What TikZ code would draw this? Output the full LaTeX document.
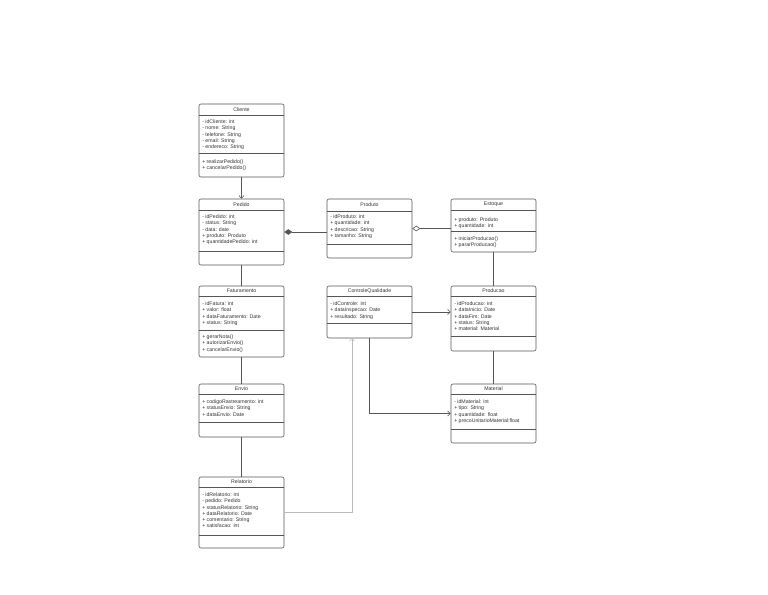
\documentclass[tikz,border=0pt]{standalone}
\usepackage{fontspec}
\setmainfont{Liberation Sans}
\usepackage{tikz}
\usetikzlibrary{positioning, arrows.meta, fit}
\definecolor{uLine}{HTML}{555555}
\definecolor{uInk}{HTML}{333333}
\definecolor{uFaint}{HTML}{BBBBBB}
\tikzset{
  classbox/.style={draw=uLine, rounded corners=1.5pt, inner sep=0pt, line width=0.45pt},
  sepline/.style={draw=uLine, line width=0.45pt},
  umltitle/.style={font=\fontsize{3.9}{4.7}\selectfont, text=uInk, inner sep=0pt},
  umltext/.style={font=\fontsize{3.9}{4.7}\selectfont, text=uInk, inner sep=0pt,
    align=left, anchor=north west},
  link/.style={draw=uLine, line width=0.45pt},
  openhead/.style={-{Straight Barb[length=2pt, width=3.8pt]}},
}
% box of one class: name, left x, top, title line, method line, bottom
\newcommand{\umlbox}[6]{%
  \node[classbox, fit={(#2,#3) ({#2+85},#6)}] (#1) {};
  \draw[sepline] (#2,#4) -- ({#2+85},#4);
  \draw[sepline] (#2,#5) -- ({#2+85},#5);
}

\begin{document}
\begin{tikzpicture}[x=0.75pt, y=-0.75pt]
  \useasboundingbox (0,0) rectangle (768,594);
  % classes
  \umlbox{cliente}{199}{104}{115}{153}{177}
  \umlbox{pedido}{199}{199}{210}{251}{265}
  \umlbox{produto}{327}{199}{211}{244}{258}
  \umlbox{estoque}{451}{199}{210}{231}{252}
  \umlbox{faturamento}{199}{286}{296}{330}{357}
  \umlbox{controle}{327}{286}{296}{323}{338}
  \umlbox{producao}{451}{286}{296}{336}{351}
  \umlbox{envio}{199}{384}{394}{422}{437}
  \umlbox{material}{451}{384}{394}{429}{443}
  \umlbox{relatorio}{199}{477}{487}{535}{548}
  % titles
  \node[umltitle] (cliente-t) at (241.5,109.5) {Cliente};
  \node[umltitle] (pedido-t) at (241.5,204.5) {Pedido};
  \node[umltitle] (produto-t) at (369.5,205) {Produto};
  \node[umltitle] (estoque-t) at (493.5,204.5) {Estoque};
  \node[umltitle] (faturamento-t) at (241.5,291) {Faturamento};
  \node[umltitle] (controle-t) at (369.5,291) {ControleQualidade};
  \node[umltitle] (producao-t) at (493.5,291) {Producao};
  \node[umltitle] (envio-t) at (241.5,389) {Envio};
  \node[umltitle] (material-t) at (493.5,389) {Material};
  \node[umltitle] (relatorio-t) at (241.5,482) {Relatorio};
  % attributes and operations
  \node[umltext] (cliente-a) at (202,119.5) {- idCliente: int\\- nome: String\\- telefone: String\\- email: String\\- endereco: String};
  \node[umltext] (cliente-o) at (202,159.5) {+ realizarPedido()\\+ cancelarPedido()};
  \node[umltext] (pedido-a) at (202,214.5) {- idPedido: int\\- status: String\\- data: date\\+ produto: Produto\\+ quantidadePedido: int};
  \node[umltext] (produto-a) at (330,214.5) {- idProduto: int\\+ quantidade: int\\+ descricao: String\\+ tamanho: String};
  \node[umltext] (estoque-a) at (454,217.5) {+ produto: Produto\\+ quantidade: int};
  \node[umltext] (estoque-o) at (454,236.5) {+ iniciarProducao()\\+ pararProducao()};
  \node[umltext] (faturamento-a) at (202,301.5) {- idFatura: int\\+ valor: float\\+ dataFaturamento: Date\\+ status: String};
  \node[umltext] (faturamento-o) at (202,334.5) {+ gerarNota()\\+ autorizarEnvio()\\+ cancelarEnvio()};
  \node[umltext] (controle-a) at (330,301.5) {- idControle: int\\+ dataInspecao: Date\\+ resultado: String};
  \node[umltext] (producao-a) at (454,301.5) {- idProducao: int\\+ dataInicio: Date\\+ dataFim: Date\\+ status: String\\+ material: Material};
  \node[umltext] (envio-a) at (202,399.5) {+ codigoRastreamento: int\\+ statusEnvio: String\\+ dataEnvio: Date};
  \node[umltext] (material-a) at (454,399.5) {- idMaterial: int\\+ tipo: String\\+ quantidade: float\\+ precoUnitarioMaterial:float};
  \node[umltext] (relatorio-a) at (202,492.5) {- idRelatorio: int\\- pedido: Pedido\\+ statusRelatorio: String\\+ dataRelatorio: Date\\+ comentario: String\\+ satisfacao: int};
  % links
  \coordinate (qc-in) at (352,338);
  \draw[link, openhead] (cliente) -- (pedido);
  \draw[link, {Diamond[length=6pt, width=4.2pt]}-] (pedido.east) -- (pedido.east -| produto.west);
  \draw[link, {Diamond[open, length=6pt, width=4.2pt]}-] (produto.east) -- (produto.east -| estoque.west);
  \draw[link] (pedido) -- (faturamento);
  \draw[link] (faturamento) -- (envio);
  \draw[link] (envio) -- (relatorio);
  \draw[link] (estoque) -- (producao);
  \draw[link] (producao) -- (material);
  \draw[link, openhead] (controle.east) -- (controle.east -| producao.west);
  \draw[link, openhead] (controle.south) |- (material.west);
  \draw[link, draw=uFaint, openhead] (relatorio.east) -| (qc-in);
\end{tikzpicture}
\end{document}
